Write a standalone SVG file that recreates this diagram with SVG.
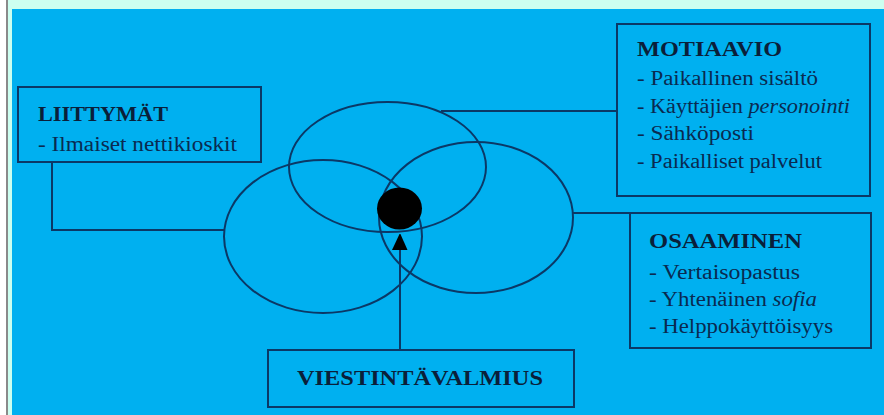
<svg xmlns="http://www.w3.org/2000/svg" width="884" height="415" viewBox="0 0 884 415">
<defs>
<style>
.box{fill:none;stroke:#0b3866;stroke-width:2}
.conn{fill:none;stroke:#0b3866;stroke-width:2}
.ell{fill:none;stroke:#0b3866;stroke-width:2}
.title{font-family:"Liberation Serif",serif;font-weight:bold;font-size:20px;fill:#0a1f3a}
.item{font-family:"Liberation Serif",serif;font-size:20px;fill:#0a2a50}
.it{font-style:italic}
</style>
<marker id="arr" markerWidth="16" markerHeight="18" refX="0" refY="8" orient="auto" markerUnits="userSpaceOnUse">
<path d="M0,0 L17,8 L0,15.5 Z" fill="#000"/>
</marker>
</defs>
<rect x="0" y="0" width="884" height="415" fill="#ffffff"/>
<rect x="8" y="0" width="876" height="415" fill="#ccfff0"/>
<rect x="6" y="0" width="2" height="415" fill="#8a8a8a"/>
<rect x="12" y="9" width="872" height="406" fill="#00b0f0"/>

<g id="venn">
<ellipse class="ell" cx="387.5" cy="167" rx="98.5" ry="65"/>
<ellipse class="ell" cx="323" cy="236.5" rx="99" ry="76.5"/>
<ellipse class="ell" cx="476" cy="217.5" rx="97" ry="75.5"/>
<ellipse cx="399.5" cy="208.5" rx="22.5" ry="21" fill="#000"/>
</g>

<g id="connectors">
<polyline class="conn" points="52,162 52,230 225,230"/>
<line class="conn" x1="441" y1="111" x2="617" y2="111"/>
<line class="conn" x1="573" y1="213" x2="630" y2="213"/>
<line class="conn" x1="400" y1="350" x2="400" y2="250" marker-end="url(#arr)"/>
</g>

<g id="liittymat">
<rect class="box" x="18" y="87" width="243" height="75"/>
<text class="title" x="38" y="121" textLength="130" lengthAdjust="spacingAndGlyphs">LIITTYMÄT</text>
<text class="item" x="38" y="151" textLength="199" lengthAdjust="spacingAndGlyphs">- Ilmaiset nettikioskit</text>
</g>

<g id="motiaavio">
<rect class="box" x="617" y="24" width="253" height="172"/>
<text class="title" x="637" y="56" textLength="145" lengthAdjust="spacingAndGlyphs">MOTIAAVIO</text>
<text class="item" x="637" y="85" textLength="181" lengthAdjust="spacingAndGlyphs">- Paikallinen sisältö</text>
<text class="item" x="637" y="113" textLength="213" lengthAdjust="spacingAndGlyphs">- Käyttäjien <tspan class="it">personointi</tspan></text>
<text class="item" x="637" y="140" textLength="117" lengthAdjust="spacingAndGlyphs">- Sähköposti</text>
<text class="item" x="637" y="168" textLength="185" lengthAdjust="spacingAndGlyphs">- Paikalliset palvelut</text>
</g>

<g id="osaaminen">
<rect class="box" x="630" y="213" width="241" height="135"/>
<text class="title" x="649" y="248" textLength="153" lengthAdjust="spacingAndGlyphs">OSAAMINEN</text>
<text class="item" x="649" y="279" textLength="151" lengthAdjust="spacingAndGlyphs">- Vertaisopastus</text>
<text class="item" x="649" y="306" textLength="168" lengthAdjust="spacingAndGlyphs">- Yhtenäinen <tspan class="it">sofia</tspan></text>
<text class="item" x="649" y="333" textLength="184" lengthAdjust="spacingAndGlyphs">- Helppokäyttöisyys</text>
</g>

<g id="viestintavalmius">
<rect class="box" x="268" y="350" width="306" height="57"/>
<text class="title" x="297" y="385" font-size="22" style="font-size:22px" textLength="246" lengthAdjust="spacingAndGlyphs">VIESTINTÄVALMIUS</text>
</g>
</svg>
